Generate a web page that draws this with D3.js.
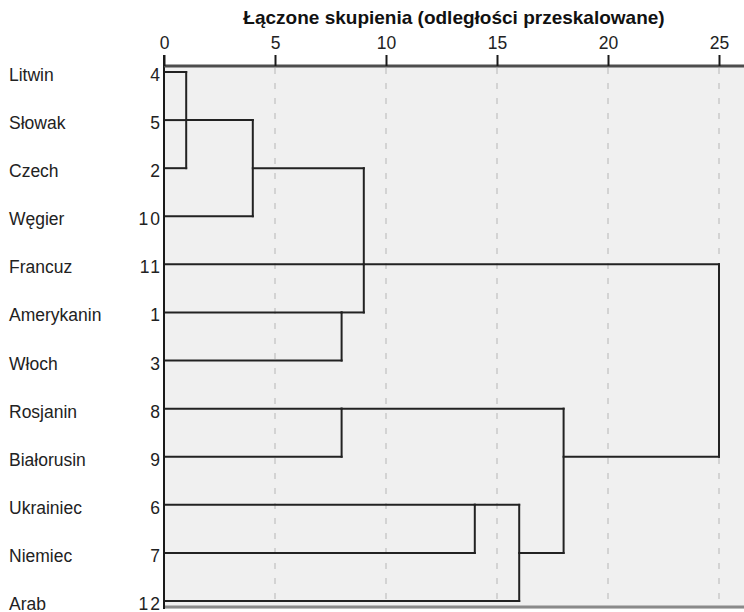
<!DOCTYPE html>
<html>
<head>
<meta charset="utf-8">
<script src="https://cdn.jsdelivr.net/npm/d3@7"></script>
<style>
  html, body { margin: 0; padding: 0; background: #ffffff; }
  svg { display: block; }
  text { font-family: "Liberation Sans", Arial, sans-serif; }
</style>
</head>
<body>
<svg id="chart" width="744" height="612"></svg>
<script>
// ---- data ----
const title = "Łączone skupienia (odległości przeskalowane)";
const leafLabels = ["Litwin", "Słowak", "Czech", "Węgier", "Francuz", "Amerykanin", "Włoch",
                    "Rosjanin", "Białorusin", "Ukrainiec", "Niemiec", "Arab"];
const caseNumbers = [4, 5, 2, 10, 11, 1, 3, 8, 9, 6, 7, 12];
const tickValues = [0, 5, 10, 15, 20, 25];
// merges: members are leaf labels or earlier clusters "c<index>"
const mergeMembers = [
  ["Litwin", "Słowak", "Czech"],   // c0
  ["c0", "Węgier"],                // c1
  ["Amerykanin", "Włoch"],         // c2
  ["c1", "Francuz", "c2"],         // c3
  ["Rosjanin", "Białorusin"],      // c4
  ["Ukrainiec", "Niemiec"],        // c5
  ["c5", "Arab"],                  // c6
  ["c4", "c6"],                    // c7
  ["c3", "c7"]                     // c8
];
const mergeLevels = [1, 4, 8, 9, 8, 14, 16, 18, 25];

// ---- layout ----
const W = 744, H = 612;
const plotLeft = 164, plotTop = 66, plotBottom = 609;
const svg = d3.select("#chart");

const x = d3.scaleLinear().domain([0, 25]).range([164, 719]);
const y = d3.scalePoint().domain(d3.range(leafLabels.length)).range([72, 601]);

// background of plot region
svg.append("rect")
  .attr("x", plotLeft).attr("y", plotTop)
  .attr("width", W - plotLeft).attr("height", plotBottom - plotTop)
  .attr("fill", "#f0f0f0");

// dashed grid
svg.append("g").selectAll("line")
  .data(tickValues.filter(v => v > 0))
  .join("line")
  .attr("x1", d => x(d)).attr("x2", d => x(d))
  .attr("y1", plotTop + 2).attr("y2", plotBottom - 3)
  .attr("stroke", "#c9c9c9")
  .attr("stroke-width", 1.5)
  .attr("stroke-dasharray", "6,9");

// bottom border
svg.append("line")
  .attr("x1", plotLeft).attr("x2", W)
  .attr("y1", 607).attr("y2", 607)
  .attr("stroke", "#8a8a8a").attr("stroke-width", 3);

// dendrogram
const clusterInfo = [];
function info(m) {
  if (typeof m === "string" && /^c\d+$/.test(m)) return clusterInfo[+m.slice(1)];
  return { row: leafLabels.indexOf(m), level: 0 };
}
const segs = [];
mergeMembers.forEach((members, i) => {
  const lv = mergeLevels[i];
  const kids = members.map(info);
  kids.forEach(k => segs.push({ x1: k.level, x2: lv, r1: k.row, r2: k.row }));
  const rows = kids.map(k => k.row);
  segs.push({ x1: lv, x2: lv, r1: d3.min(rows), r2: d3.max(rows) });
  const mean = d3.mean(rows);
  clusterInfo.push({ row: Math.ceil(mean - 0.5), level: lv });
});

svg.append("g").selectAll("line")
  .data(segs)
  .join("line")
  .attr("x1", d => x(d.x1)).attr("x2", d => x(d.x2))
  .attr("y1", d => y(d.r1)).attr("y2", d => y(d.r2))
  .attr("stroke", "#222")
  .attr("stroke-width", 2)
  .attr("stroke-linecap", "square");

// left axis line
svg.append("line")
  .attr("x1", plotLeft).attr("x2", plotLeft)
  .attr("y1", 55).attr("y2", 609)
  .attr("stroke", "#1a1a1a").attr("stroke-width", 2);

// top axis line
svg.append("line")
  .attr("x1", plotLeft).attr("x2", W)
  .attr("y1", plotTop).attr("y2", plotTop)
  .attr("stroke", "#4d4d4d").attr("stroke-width", 3);

// top axis ticks and labels
const axis = d3.axisTop(x).tickValues(tickValues).tickSizeInner(11).tickSizeOuter(0).tickPadding(6);
const ag = svg.append("g").attr("transform", `translate(0,${plotTop})`).call(axis);
ag.select(".domain").remove();
ag.selectAll(".tick line").attr("stroke", "#1a1a1a").attr("stroke-width", 2);
ag.selectAll(".tick text")
  .attr("font-size", 17.5)
  .attr("font-family", "'Liberation Sans', Arial, sans-serif")
  .attr("fill", "#222");

// title
svg.append("text")
  .attr("x", (plotLeft + W) / 2).attr("y", 24)
  .attr("text-anchor", "middle")
  .attr("font-size", 19)
  .attr("font-weight", "bold")
  .attr("fill", "#111")
  .text(title);

// leaf labels
svg.append("g").selectAll("text")
  .data(leafLabels)
  .join("text")
  .attr("x", 9)
  .attr("y", (d, i) => y(i) + 9)
  .attr("font-size", 17.5)
  .attr("fill", "#222")
  .text(d => d);

// case numbers
svg.append("g").selectAll("text")
  .data(caseNumbers)
  .join("text")
  .attr("x", 162)
  .attr("y", (d, i) => y(i) + 9)
  .attr("text-anchor", "end")
  .attr("font-size", 17.5)
  .attr("letter-spacing", 2)
  .attr("fill", "#222")
  .text(d => d);
</script>
</body>
</html>
